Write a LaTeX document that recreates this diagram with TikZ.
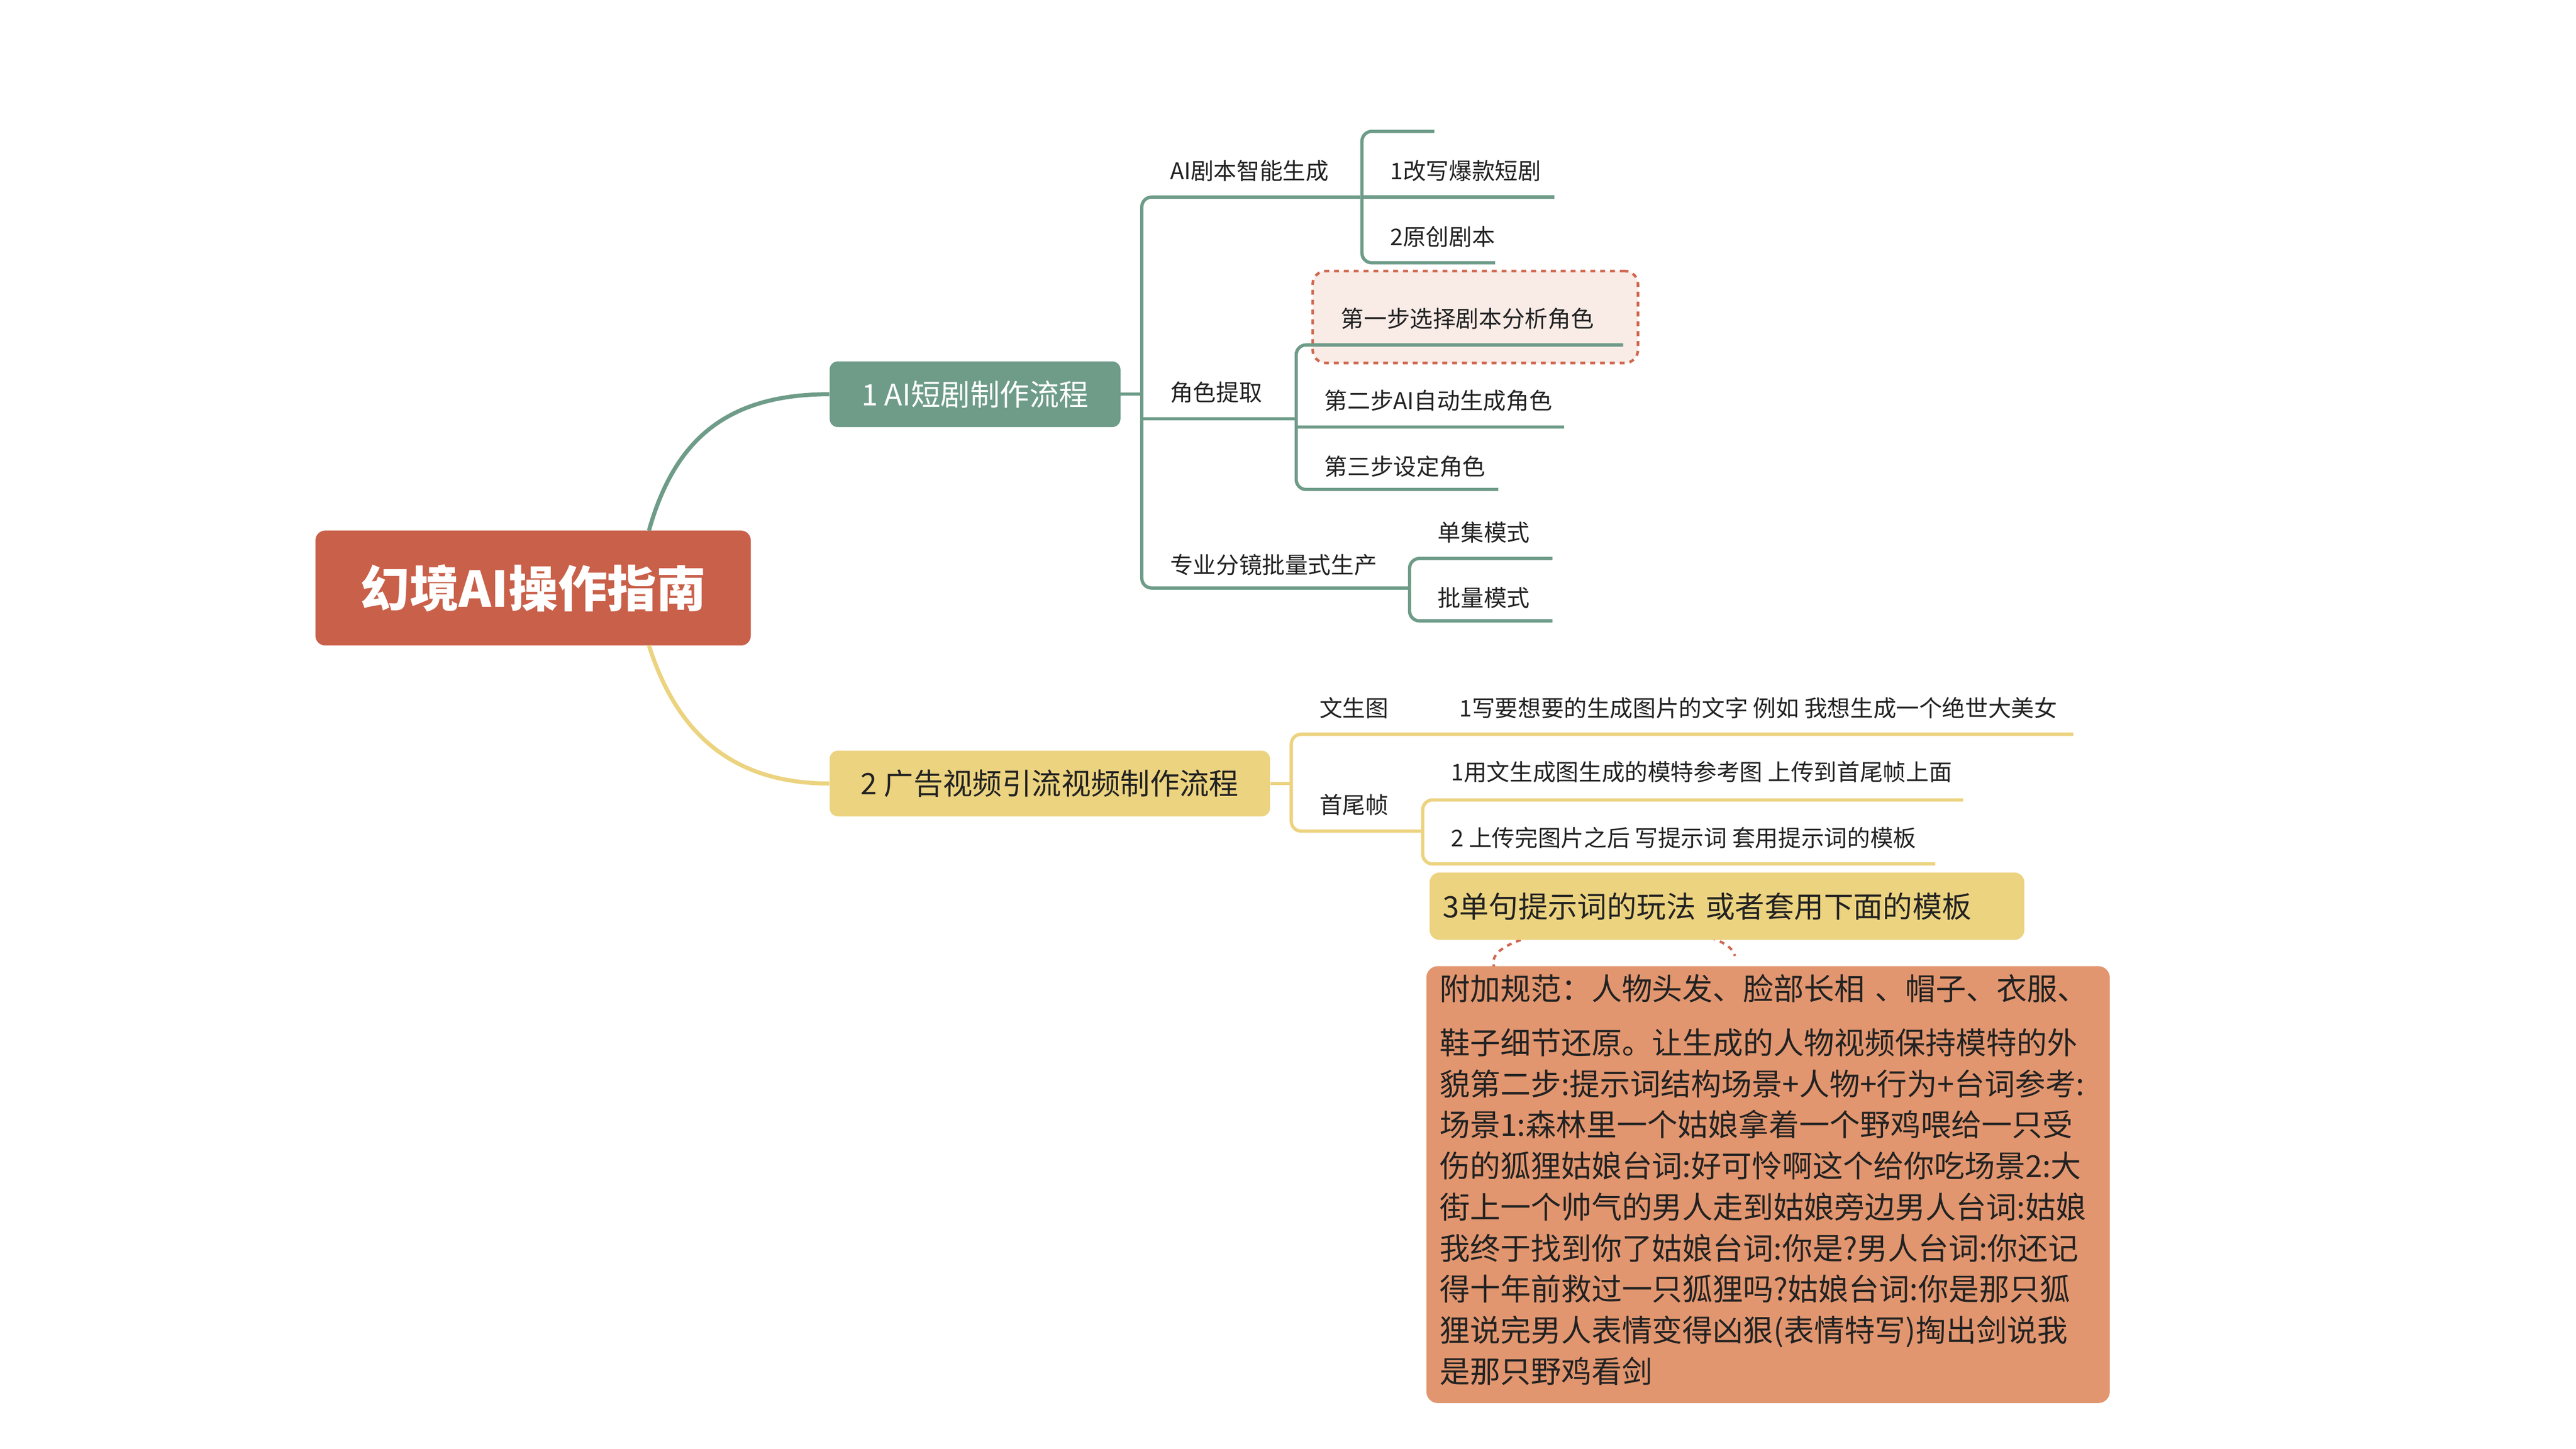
\documentclass[tikz,border=0pt]{standalone}
\usepackage{fontspec}
\setmainfont{Noto Sans CJK SC}
\definecolor{gr}{HTML}{6E9C89}
\definecolor{ye}{HTML}{ECD380}
\definecolor{rootc}{HTML}{C9604A}
\definecolor{notec}{HTML}{E2966F}
\definecolor{dashc}{HTML}{D0674F}
\definecolor{pink}{HTML}{F9ECE7}
\definecolor{txt}{HTML}{222222}
\begin{document}
\begin{tikzpicture}[x=1pt,y=-1pt,
  lab/.style={anchor=west,font=\fontsize{14}{16}\selectfont,text=txt,inner sep=0pt},
  gl/.style={draw=gr,line width=2pt,rounded corners=6pt},
  yl/.style={draw=ye,line width=2pt,rounded corners=6pt}]
\useasboundingbox (0,0) rectangle (1568,882);
% root and branches
\node[fill=rootc,rounded corners=6pt,minimum width=265pt,minimum height=70pt,text=white,font=\fontsize{30}{32}\selectfont\bfseries] (root) at (324.5,358) {幻境AI操作指南};
\node[fill=gr,rounded corners=5pt,minimum width=177pt,minimum height=40pt,text=white,font=\fontsize{18}{20}\selectfont] (b1) at (593.5,240) {1 AI短剧制作流程};
\node[fill=ye,rounded corners=5pt,minimum width=268pt,minimum height=40pt,text=txt,font=\fontsize{18}{20}\selectfont] (b2) at (639,477) {2 广告视频引流视频制作流程};
\draw[gr,line width=2.5pt] (395,323) .. controls (410,270) and (440,240) .. (b1.west);
\draw[ye,line width=2.5pt] (395,393) .. controls (410,440) and (440,477) .. (b2.west);
% branch 1
\coordinate (j1) at (695,240);
\draw[gr,line width=2pt] (b1.east) -- (j1);
\draw[gl] (828,120) -- (695,120) -- (695,358) -- (857,358);
\draw[gl] (695,255) -- (788,255);
\node[lab] (a1) at (712,104) {AI剧本智能生成};
\node[lab] (a2) at (712,239) {角色提取};
\node[lab] (a3) at (712,344) {专业分镜批量式生产};
\draw[gl] (873,80) -- (829,80) -- (829,160) -- (910,160);
\draw[gl] (829,120) -- (946,120);
\node[lab] (a11) at (846,104) {1改写爆款短剧};
\node[lab] (a12) at (846,144) {2原创剧本};
\node[draw=dashc,fill=pink,dashed,line width=1.6pt,rounded corners=8pt,minimum width=198pt,minimum height=56pt] (hl) at (898,193) {};
\draw[gl] (988,210) -- (789,210) -- (789,298) -- (912,298);
\draw[gl] (789,260) -- (952,260);
\node[lab] (a21) at (816,194) {第一步选择剧本分析角色};
\node[lab] (a22) at (806,244) {第二步AI自动生成角色};
\node[lab] (a23) at (806,284) {第三步设定角色};
\draw[gl] (945,340) -- (858,340) -- (858,378) -- (945,378);
\node[lab] (a31) at (875,324) {单集模式};
\node[lab] (a32) at (875,364) {批量模式};
% branch 2
\draw[ye,line width=2pt] (b2.east) -- (786,477);
\draw[yl] (1262,447) -- (786,447) -- (786,506) -- (865,506);
\node[lab] (c1) at (803,431) {文生图};
\node[lab] (c11) at (888,431) {1写要想要的生成图片的文字 例如 我想生成一个绝世大美女};
\node[lab] (c2) at (803,490) {首尾帧};
\draw[yl] (1195,487) -- (866,487) -- (866,526) -- (1178,526);
\node[lab] (c21) at (883,470) {1用文生成图生成的模特参考图 上传到首尾帧上面};
\node[lab] (c22) at (883,510) {2 上传完图片之后 写提示词 套用提示词的模板};
% relation
\coordinate (r1) at (910,590);
\coordinate (r2) at (1056,582);
\draw[dashc,dashed,line width=1.5pt] (r1) .. controls (895,560) and (1050,555) .. (r2);
\node[fill=ye,rounded corners=6pt,minimum width=362pt,minimum height=41pt,text=txt,font=\fontsize{18}{20}\selectfont,anchor=north west,text width=346pt,align=left,inner xsep=8pt] (y3) at (870,531) {3单句提示词的玩法 或者套用下面的模板};
\node[fill=notec,rounded corners=7pt,anchor=north west,minimum width=416pt,minimum height=266pt,text width=400pt,align=left,inner xsep=8pt,inner ysep=0pt,font=\fontsize{18.5}{25}\selectfont,text=txt] (note) at (868,588) {\vspace{8pt}附加规范：人物头发、脸部长相 、帽子、衣服、\\
鞋子细节还原。让生成的人物视频保持模特的外\\
貌第二步:提示词结构场景+人物+行为+台词参考:\\
场景1:森林里一个姑娘拿着一个野鸡喂给一只受\\
伤的狐狸姑娘台词:好可怜啊这个给你吃场景2:大\\
街上一个帅气的男人走到姑娘旁边男人台词:姑娘\\
我终于找到你了姑娘台词:你是?男人台词:你还记\\
得十年前救过一只狐狸吗?姑娘台词:你是那只狐\\
狸说完男人表情变得凶狠(表情特写)掏出剑说我\\
是那只野鸡看剑\vspace{6pt}};
\end{tikzpicture}
\end{document}
